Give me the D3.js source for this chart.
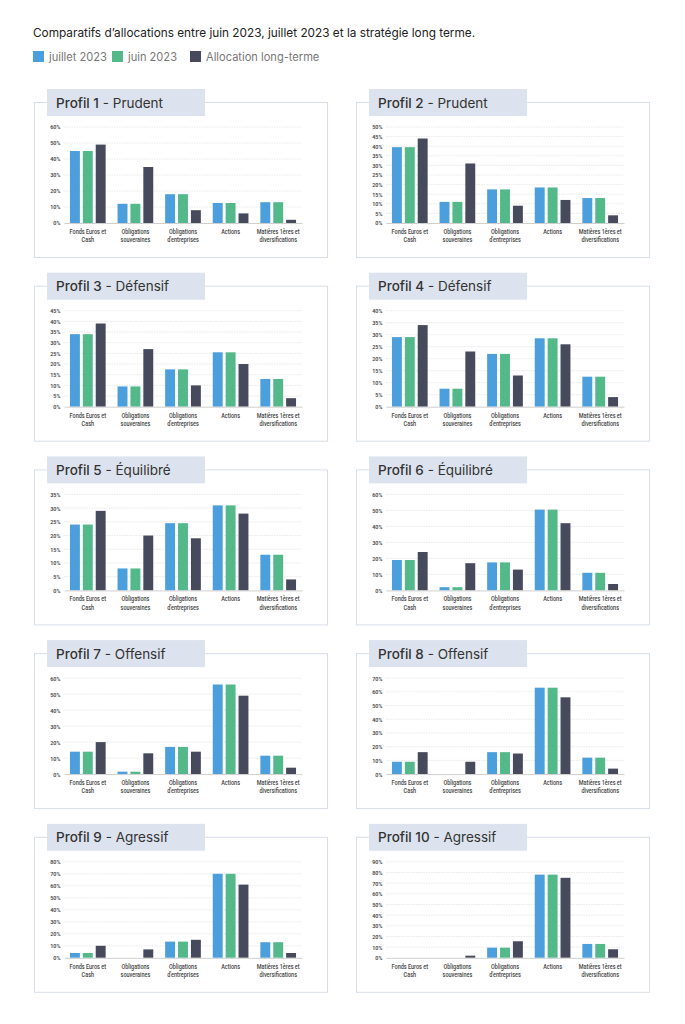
<!DOCTYPE html>
<html>
<head>
<meta charset="utf-8">
<script src="https://cdn.jsdelivr.net/npm/d3@7"></script>
<style>
    body { margin: 0; background: #ffffff; }
    svg { display: block; font-family: Inter, "Noto Sans", sans-serif; }
    .panel-box { fill: #ffffff; stroke: #d7dee9; stroke-width: 1; }
    .panel-tab { fill: #dce3ee; }
    .grid line { stroke: #e3e3e3; stroke-width: 0.8; stroke-dasharray: 1.5,1; }
    .tick-label { font-family: Roboto, sans-serif; font-size: 6.4px; font-weight: 500; fill: #444; }
</style>
</head>
<body>
<svg id="chart"></svg>
<script>
const svgWidth = 685;
const svgHeight = 1024;

// DATA
var categories = ["Fonds Euros et Cash", "Obligations souveraines", "Obligations d'entreprises", "Actions", "Matières 1ères et diversifications"];
var tickLines = [
    ["Fonds Euros et", "Cash"],
    ["Obligations", "souveraines"],
    ["Obligations", "d'entreprises"],
    ["Actions"],
    ["Matières 1ères et", "diversifications"]
];
var seriesNames = ["juillet 2023", "juin 2023", "Allocation long-terme"];
var colours = ["#4b9fdc", "#53b98b", "#474a5d"];

var profileNumbers = ["Profil 1", "Profil 2", "Profil 3", "Profil 4", "Profil 5", "Profil 6", "Profil 7", "Profil 8", "Profil 9", "Profil 10"];
var profileNames = ["Prudent", "Prudent", "Défensif", "Défensif", "Équilibré", "Équilibré", "Offensif", "Offensif", "Agressif", "Agressif"];

// y axis max and tick step per profile (%)
var yMax = [60, 50, 45, 40, 35, 60, 60, 70, 80, 90];
var yStep = [10, 5, 5, 5, 5, 10, 10, 10, 10, 10];

// values in % per profile, in category order
var juillet2023 = [
    [45, 12, 18, 12.5, 13],
    [39.5, 11, 17.5, 18.5, 13],
    [34, 9.5, 17.5, 25.5, 13],
    [29, 7.5, 22, 28.5, 12.5],
    [24, 8, 24.5, 31, 13],
    [19, 2, 17.5, 50.5, 11],
    [14, 1.5, 17, 56, 11.5],
    [9, 0, 16, 63, 12],
    [4, 0, 13.5, 70, 13],
    [0, 0, 9.5, 78, 13]
];
var juin2023 = [
    [45, 12, 18, 12.5, 13],
    [39.5, 11, 17.5, 18.5, 13],
    [34, 9.5, 17.5, 25.5, 13],
    [29, 7.5, 22, 28.5, 12.5],
    [24, 8, 24.5, 31, 13],
    [19, 2, 17.5, 50.5, 11],
    [14, 1.5, 17, 56, 11.5],
    [9, 0, 16, 63, 12],
    [4, 0, 13.5, 70, 13],
    [0, 0, 9.5, 78, 13]
];
var longTerme = [
    [49, 35, 8, 6, 2],
    [44, 31, 9, 12, 4],
    [39, 27, 10, 20, 4],
    [34, 23, 13, 26, 4],
    [29, 20, 19, 28, 4],
    [24, 17, 13, 42, 4],
    [20, 13, 14, 49, 4],
    [16, 9, 15, 56, 4],
    [10, 7, 15, 61, 4],
    [0, 2, 15.5, 75, 8]
];

const svg = d3.select("#chart")
    .attr("width", svgWidth)
    .attr("height", svgHeight);

// HEADER

svg.append("text")
    .text("Comparatifs d\u2019allocations entre juin 2023, juillet 2023 et la stratégie long terme.")
    .attr("x", 33)
    .attr("y", 37)
    .attr("font-size", 11.8)
    .attr("fill", "#222");

var legendX = [33, 112, 190];
var legend = svg.append("g");
seriesNames.forEach(function (name, i) {
    legend.append("rect")
        .attr("x", legendX[i])
        .attr("y", 51)
        .attr("width", 11)
        .attr("height", 11)
        .attr("fill", colours[i]);
    legend.append("text")
        .text(name)
        .attr("x", legendX[i] + 16)
        .attr("y", 60.5)
        .attr("font-size", 11.1)
        .attr("fill", "#777");
});

// PANELS

var colX = [34, 356];
var boxWidth = 293;
var rowStep = 183.7;

var xScale = d3.scaleBand()
    .domain(categories)
    .range([0, 238])
    .paddingInner(0.25)
    .paddingOuter(0.125);

var xSubgroup = d3.scaleBand()
    .domain(seriesNames)
    .range([0, xScale.bandwidth()])
    .paddingInner(0.23);

var color = d3.scaleOrdinal()
    .domain(seriesNames)
    .range(colours);

const renderPanel = function (p) {
    var col = p % 2;
    var row = Math.floor(p / 2);
    var boxX = colX[col];
    var tabTop = 89 + row * rowStep;

    var panel = svg.append("g")
        .attr("transform", "translate(" + boxX + "," + tabTop + ")");

    panel.append("rect")
        .attr("class", "panel-box")
        .attr("x", 0.5)
        .attr("y", 13.5)
        .attr("width", boxWidth)
        .attr("height", 155);

    panel.append("rect")
        .attr("class", "panel-tab")
        .attr("x", 13)
        .attr("y", 0)
        .attr("width", 158)
        .attr("height", 27);

    var title = panel.append("text")
        .attr("x", 22)
        .attr("y", 18.5)
        .attr("font-size", 13.5)
        .attr("fill", "#333");
    title.append("tspan").attr("font-weight", 500).text(profileNumbers[p]);
    title.append("tspan").text(" - " + profileNames[p]);

    var plotH = 96;
    var graph = panel.append("g")
        .attr("transform", "translate(30,38)");

    var yScale = d3.scaleLinear()
        .domain([0, yMax[p]])
        .range([plotH, 0]);
    var yTicks = d3.range(0, yMax[p] + yStep[p] / 2, yStep[p]);

    // GRID
    graph.append("g")
        .attr("class", "grid")
        .selectAll("line")
        .data(yTicks.slice(1)).enter().append("line")
            .attr("x1", 0)
            .attr("x2", xScale.range()[1])
            .attr("y1", function (d) { return yScale(d); })
            .attr("y2", function (d) { return yScale(d); });

    // Y AXIS
    var yAxis = graph.append("g")
        .call(d3.axisLeft(yScale).tickValues(yTicks).tickSize(0).tickPadding(4).tickFormat(function (d) { return d + "%"; }));
    yAxis.select(".domain").remove();
    yAxis.selectAll("text")
        .attr("class", "tick-label")
        .attr("font-size", null)
        .attr("font-family", null)
        .style("font-size", "6px")
        .style("font-weight", 600)
        .attr("fill", "#4a4a4a")
        .attr("transform", "scale(0.9,1)");

    // BARS
    var values = [juillet2023[p], juin2023[p], longTerme[p]];
    graph.append("g")
        .selectAll("g")
        .data(categories).enter().append("g")
            .attr("transform", function (d) { return "translate(" + xScale(d) + ",0)"; })
        .selectAll("rect")
            .data(function (d, i) { return seriesNames.map(function (key, s) { return { key: key, value: values[s][i] }; }); })
            .enter().append("rect")
                .attr("x", function (d) { return xSubgroup(d.key); })
                .attr("y", function (d) { return yScale(d.value); })
                .attr("width", xSubgroup.bandwidth())
                .attr("height", function (d) { return plotH - yScale(d.value); })
                .attr("fill", function (d) { return color(d.key); });

    // X AXIS
    var xAxis = graph.append("g")
        .attr("transform", "translate(0," + plotH + ")")
        .call(d3.axisBottom(xScale).tickSize(0).tickFormat(""));
    xAxis.select(".domain")
        .attr("stroke", "#cfcfcf")
        .attr("stroke-width", 1);
    xAxis.selectAll(".tick").each(function (d, i) {
        var t = d3.select(this).append("text")
            .attr("class", "tick-label")
            .attr("text-anchor", "middle")
            .attr("transform", "scale(0.86,1)");
        tickLines[i].forEach(function (line, k) {
            t.append("tspan")
                .attr("x", 0)
                .attr("y", 11 + k * 8.3)
                .text(line);
        });
    });
};

for (var p = 0; p < 10; p++) {
    renderPanel(p);
}
</script>
</body>
</html>
